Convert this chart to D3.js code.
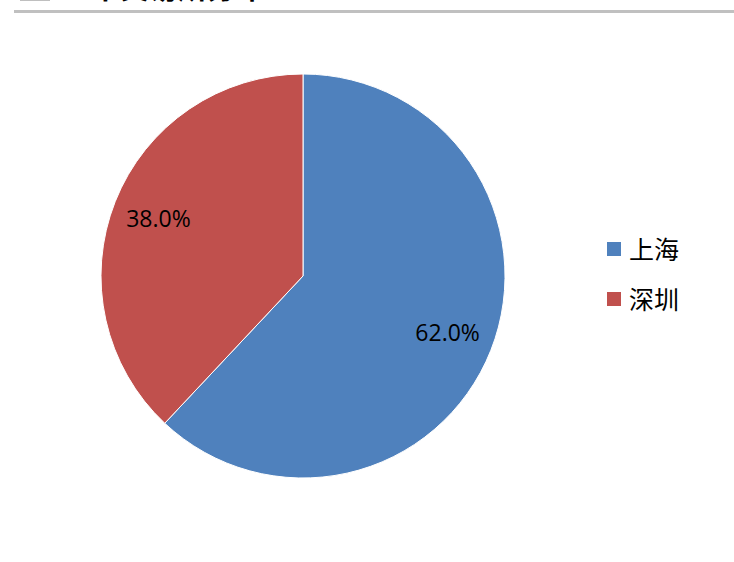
<!DOCTYPE html>
<html><head><meta charset="utf-8">
<script src="https://cdn.jsdelivr.net/npm/d3@7"></script>
<style>html,body{margin:0;padding:0;background:#fff;overflow:hidden}</style>
</head><body>
<svg id="c" width="734" height="562"></svg>
<script>
const categories = ["上海", "深圳"];
const values = [62.0, 38.0];
const labels = ["62.0%", "38.0%"];
const colors = ["#4F81BD", "#C0504D"];
const title = "上市交易所分布";

const svg = d3.select("#c");
// cut-off title and rule
svg.append("rect").attr("x", 20).attr("y", 0).attr("width", 30).attr("height", 1).attr("fill", "#bfbfbf");
svg.append("text").attr("x", 62).attr("y", -1).attr("font-family", "Noto Sans CJK SC").attr("font-weight", "bold")
  .attr("font-size", 29).attr("fill", "#000").text(title);
svg.append("rect").attr("x", 14).attr("y", 10).attr("width", 720).attr("height", 3).attr("fill", "#c0c0c0");

const cx = 303, cy = 276, r = 202;
const pie = d3.pie().sort(null).value(d => d)(values);
const arc = d3.arc().innerRadius(0).outerRadius(r);
const labelArc = d3.arc().innerRadius(r * 0.77).outerRadius(r * 0.77);
const g = svg.append("g").attr("transform", `translate(${cx},${cy})`);
g.selectAll("path").data(pie).join("path")
  .attr("d", arc).attr("fill", (d, i) => colors[i])
  .attr("stroke", "#fff").attr("stroke-width", 1);
g.selectAll("text").data(pie).join("text")
  .attr("transform", d => `translate(${labelArc.centroid(d)})`)
  .attr("text-anchor", "middle").attr("dy", "0.35em")
  .attr("font-family", "Open Sans, Noto Sans, sans-serif").attr("font-size", 23).attr("fill", "#000")
  .text((d, i) => labels[i]);

const leg = svg.append("g").attr("transform", "translate(607,242)");
const item = leg.selectAll("g").data(categories).join("g").attr("transform", (d, i) => `translate(0,${i * 50})`);
item.append("rect").attr("width", 14).attr("height", 14).attr("fill", (d, i) => colors[i]);
item.append("text").attr("x", 22).attr("y", 7).attr("dy", "0.38em")
  .attr("font-family", "Noto Sans CJK SC").attr("font-size", 25).attr("fill", "#000").text(d => d);
</script>
</body></html>
